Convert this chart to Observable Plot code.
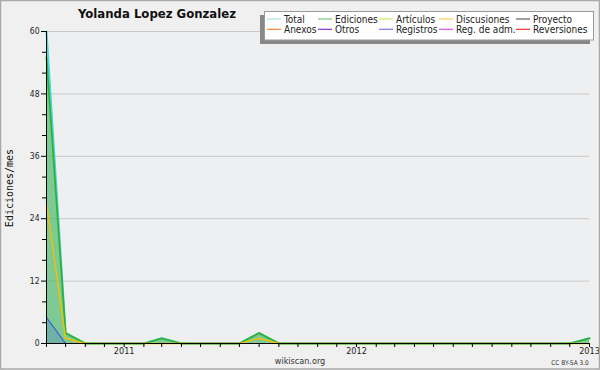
<!DOCTYPE html>
<html><head><meta charset="utf-8">
<script src="https://cdn.jsdelivr.net/npm/d3@7"></script>
<script src="https://cdn.jsdelivr.net/npm/@observablehq/plot@0.6"></script>
<style>body{margin:0;background:#f0f0f0;} svg{display:block}</style>
</head><body><div id="chart"></div>
<script>
const months = ["2010-09","2010-10","2010-11","2010-12","2011-01","2011-02","2011-03","2011-04","2011-05","2011-06","2011-07","2011-08","2011-09","2011-10","2011-11","2011-12","2012-01","2012-02","2012-03","2012-04","2012-05","2012-06","2012-07","2012-08","2012-09","2012-10","2012-11","2012-12","2013-01"];
const total       = [60,2,0,0,0,0,1,0,0,0,0,2,0,0,0,0,0,0,0,0,0,0,0,0,0,0,0,0,1];
const ediciones   = [55,2,0,0,0,0,1,0,0,0,0,2,0,0,0,0,0,0,0,0,0,0,0,0,0,0,0,0,1];
const discusiones = [27,1,0,0,0,0,0,0,0,0,0,1,0,0,0,0,0,0,0,0,0,0,0,0,0,0,0,0,0];
const registros   = [5,0,0,0,0,0,0,0,0,0,0,0,0,0,0,0,0,0,0,0,0,0,0,0,0,0,0,0,0];
const yearTicks = ["2011-01","2012-01","2013-01"];
const yMajor = [0,12,24,36,48,60];
const yMinor = [4,8,16,20,28,32,40,44,52,56];
const legendLabels = ["Total","Ediciones","Artículos","Discusiones","Proyecto","Anexos","Otros","Registros","Reg. de adm.","Reversiones"];
const legendColors = ["#a8e4e4","#78c878","#c8ee60","#ffcc55","#606060","#ff8040","#8030c0","#7878f0","#d850e8","#ee3030"];
const title = "Yolanda Lopez Gonzalez";
const yLabel = "Ediciones/mes";

const parse = d3.utcParse("%Y-%m");
const data = months.map((m,i)=>({date: parse(m), total: total[i], ediciones: ediciones[i], discusiones: discusiones[i], registros: registros[i]}));
const start = parse(months[0]), end = parse(months[months.length-1]);
const monthDates = months.map(parse);
const font = "'DejaVu Sans Condensed','DejaVu Sans',sans-serif";

const chart = Plot.plot({
  width: 600, height: 370,
  marginLeft: 46, marginRight: 11, marginTop: 31, marginBottom: 27,
  style: {background: "#f0f0f0", fontFamily: font, fontSize: "9px", color: "#222"},
  x: {type: "utc", domain: [start, end], label: null},
  y: {domain: [0, 60], label: null},
  marks: [
    Plot.frame({fill: "#eeeff1", stroke: null}),
    Plot.gridY(yMajor.slice(1), {stroke: "#c8c8c8", strokeOpacity: 1}),
    Plot.areaY(data, {x: "date", y: "total", fill: "#40e0d0", fillOpacity: 0.25}),
    Plot.areaY(data, {x: "date", y: "ediciones", fill: "#2ea02e", fillOpacity: 0.45}),
    Plot.areaY(data, {x: "date", y: "registros", fill: "#3355ee", fillOpacity: 0.2}),
    Plot.lineY(data, {x: "date", y: "total", stroke: "#3ddbdb", strokeWidth: 2}),
    Plot.lineY(data, {x: "date", y: "ediciones", stroke: "#33b033", strokeWidth: 1.8}),
    Plot.lineY(data, {x: "date", y: "discusiones", stroke: "#f2c200", strokeWidth: 1.4}),
    Plot.lineY(data, {x: "date", y: "registros", stroke: "#3050e8", strokeWidth: 1.1}),
    Plot.ruleY([0], {stroke: "black"}),
    Plot.ruleX([start], {stroke: "black"}),
    Plot.axisX({ticks: monthDates, tickSize: 4, tickFormat: () => "", stroke: "black"}),
    Plot.axisX({ticks: yearTicks.map(parse), tickSize: 0, tickPadding: 4, tickFormat: d3.utcFormat("%Y"), fontSize: 9}),
    Plot.axisY({ticks: yMajor, tickSize: 5, tickPadding: 2, fontSize: 8.5, stroke: "black"}),
    Plot.axisY({ticks: yMinor, tickSize: 4, tickFormat: () => "", stroke: "black"})
  ]
});
document.getElementById("chart").appendChild(chart);

const svg = d3.select(chart);
svg.append("rect").attr("x",0.5).attr("y",0.5).attr("width",599).attr("height",368.5)
  .attr("fill","none").attr("stroke","#a8a8a8").attr("stroke-width",1.5);
svg.append("text").attr("x",157).attr("y",18).attr("text-anchor","middle")
  .attr("font-family",font).attr("font-weight","bold").attr("font-size",13).attr("fill","#111").text(title);
svg.append("text").attr("transform","translate(13,188) rotate(-90)").attr("text-anchor","middle")
  .attr("font-family","'DejaVu Sans Mono',monospace").attr("font-size",10).attr("fill","#111").text(yLabel);
svg.append("text").attr("x",300).attr("y",364).attr("text-anchor","middle")
  .attr("font-family",font).attr("font-size",9).attr("fill","#333").text("wikiscan.org");
svg.append("text").attr("x",570).attr("y",365).attr("text-anchor","middle")
  .attr("font-family",font).attr("font-size",6.5).attr("fill","#333").text("CC BY-SA 3.0");
const lg = svg.append("g");
lg.append("rect").attr("x",260).attr("y",15).attr("width",330).attr("height",29).attr("fill","#888");
lg.append("rect").attr("x",264.5).attr("y",11.5).attr("width",329).attr("height",28.5).attr("fill","white").attr("stroke","#999");
const colX = [284, 335, 396, 456, 533];
legendLabels.forEach((lab, i) => {
  const r = Math.floor(i/5), c = i%5;
  const ty = 23 + r*10.3;
  lg.append("line").attr("x1",colX[c]-17).attr("x2",colX[c]-3).attr("y1",ty-4).attr("y2",ty-4)
    .attr("stroke",legendColors[i]).attr("stroke-width",1.2);
  lg.append("text").attr("x",colX[c]).attr("y",ty).attr("text-anchor","start").attr("font-family",font).attr("font-size",10)
    .attr("fill","#222").text(lab);
});
</script></body></html>
